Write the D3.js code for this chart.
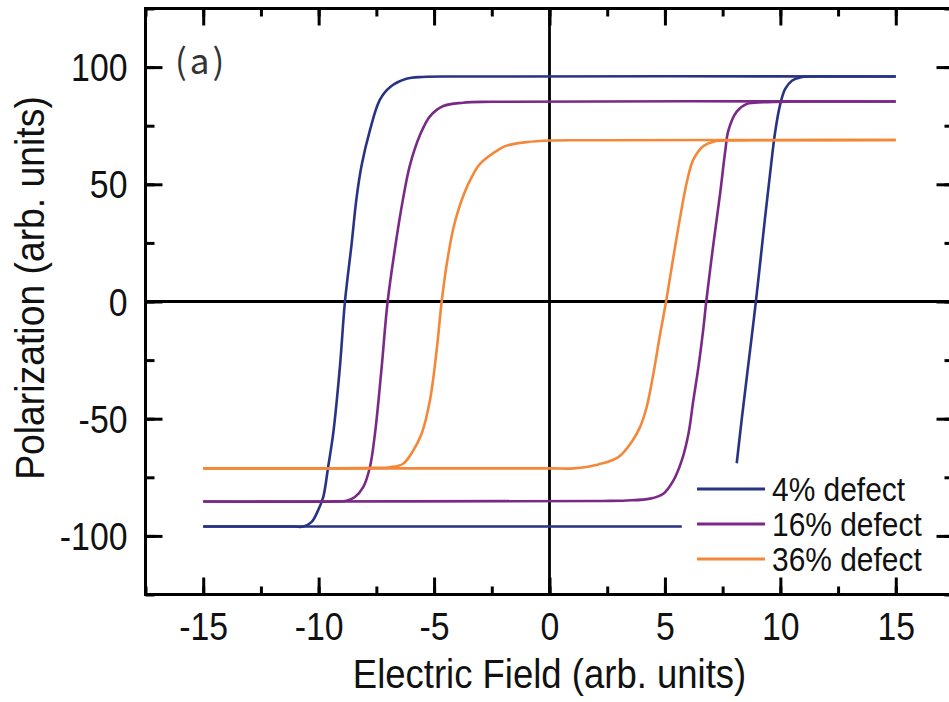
<!DOCTYPE html>
<html>
<head>
<meta charset="utf-8">
<script src="https://cdn.jsdelivr.net/npm/d3@7"></script>
<style>
  body { margin: 0; background: #fff; }
  svg { display: block; overflow: hidden; }
  text { font-family: "Liberation Sans", Arial, sans-serif; fill: #111; }
</style>
</head>
<body>
<div class="chart"></div>
<script>
// hysteresis loops, values
const seriesNames = ["4% defect", "16% defect", "36% defect"];
const seriesColors = ["#283383", "#7a2a86", "#f48838"];

// 4% defect
const blueUpperE = [-15, -11.1, -10.67, -10.3, -10.02, -9.8, -9.59, -9.37, -9.08, -8.86, -8.57, -8.36, -8.14, -7.78, -7.35, -6.9, -6.2, -5.5, -4, 15];
const blueUpperP = [-96, -96, -96, -94, -89, -83.4, -70.7, -56.4, -28, 0, 24.7, 44, 58, 73, 86, 91.5, 95, 95.8, 96, 96];
const blueLowerE = [-15, 5.73, null, 8.11, 8.33, 8.55, 8.76, 8.94, 9.12, 9.34, 9.56, 9.77, 9.99, 10.21, 10.5, 10.86, 11.5, 12.5, 15];
const blueLowerP = [-96, -96, null, -69, -50, -32, -15, 0, 16, 36, 55, 72, 84, 90.7, 94.2, 95.6, 96, 96, 96];

// 16% defect
const purpleUpperE = [-15, -9.3, -8.79, -8.43, -8.07, -7.78, -7.56, -7.27, -7.01, -6.62, -6.34, -6.05, -5.61, -5.18, -4.6, -3.75, -2.5, 15];
const purpleUpperP = [-85.3, -85.3, -85, -83.4, -79.2, -70.7, -56.4, -28, 0, 27.4, 44, 58, 71, 79, 83.4, 84.8, 85.2, 85.3];
const purpleLowerE = [-15, 2.3, 3.35, 4.36, 4.93, 5.37, 5.73, 6.02, 6.23, 6.45, 6.67, 6.79, 7.1, 7.39, 7.61, 7.75, 8.11, 8.55, 9.27, 10.5, 15];
const purpleLowerP = [-85.3, -85.1, -84.9, -84.1, -82, -76.3, -67.8, -56.4, -42.2, -28, -11, 0, 24.6, 46, 64, 73, 81, 84.3, 85, 85.3, 85.3];

// 36% defect
const orangeUpperE = [-15, -7.6, -6.91, -6.34, -5.9, -5.54, -5.18, -4.89, -4.67, -4.45, -4.17, -3.95, -3.7, -3.4, -3.01, -2.15, -1.86, -1, 0, 2, 15];
const orangeUpperP = [-71.2, -71, -70.7, -69.2, -63.5, -56.4, -42.2, -20.9, 0, 16, 31, 39, 46, 52.5, 58.7, 65.1, 66.5, 68, 68.7, 68.8, 68.9];
const orangeLowerE = [-15, 0, 1.03, 2.12, 2.98, 3.6, 3.92, 4.21, 4.5, 4.79, 5.05, 5.3, 5.66, 5.95, 6.23, 6.67, 7.1, 8, 9.5, 15];
const orangeLowerP = [-71.2, -71.2, -71.2, -69.5, -66.4, -59.3, -53.6, -45, -30.8, -14, 0, 15, 36, 51, 60.5, 66.3, 68.2, 68.7, 68.8, 68.9];

const xTicks = [-15, -10, -5, 0, 5, 10, 15];
const yTicks = [-100, -50, 0, 50, 100];

const W = 949, H = 702;
const svg = d3.select(".chart").append("svg")
    .attr("width", W)
    .attr("height", H);

const x = d3.scaleLinear().domain([-17.5, 17.5]).range([145.5, 953.5]);
const y = d3.scaleLinear().domain([-125, 125]).range([594.5, 8.5]);

// the original font is a bit narrower than Liberation Sans
function condense(sel, k){
    sel.each(function(){
        const L = this.getComputedTextLength();
        d3.select(this).attr("textLength", L * k).attr("lengthAdjust", "spacingAndGlyphs");
    });
}

const zip = (E, P) => E.map((e, i) => ({e: e, p: P[i]}));
const branches = [
    [zip(blueUpperE, blueUpperP), zip(blueLowerE, blueLowerP)],
    [zip(purpleUpperE, purpleUpperP), zip(purpleLowerE, purpleLowerP)],
    [zip(orangeUpperE, orangeUpperP), zip(orangeLowerE, orangeLowerP)]
];

// zero lines
svg.append("line")
    .attr("x1", x(0)).attr("x2", x(0))
    .attr("y1", y(-125)).attr("y2", y(125))
    .attr("stroke", "#000").attr("stroke-width", 2.8);
svg.append("line")
    .attr("x1", x(-17.5)).attr("x2", x(17.5))
    .attr("y1", y(0)).attr("y2", y(0))
    .attr("stroke", "#000").attr("stroke-width", 2.8);

// curves
const line = d3.line()
    .defined(d => d.e != null)
    .x(d => x(d.e))
    .y(d => y(d.p))
    .curve(d3.curveCatmullRom.alpha(0.5));

branches.forEach(function(pair, i){
    pair.forEach(function(b){
        svg.append("path")
            .datum(b)
            .attr("d", line)
            .attr("fill", "none")
            .attr("stroke", seriesColors[i])
            .attr("stroke-width", 2.6);
    });
});

// axes (ticks inward on all four sides)
const fmt = d => String(d);
const minorX = d3.range(-17.5, 17.6, 2.5);
const minorY = d3.range(-125, 126, 25);
const gx = svg.append("g")
    .attr("transform", "translate(0," + y(-125) + ")")
    .call(d3.axisBottom(x).tickValues(minorX).tickSize(-8).tickFormat(""));
const gxMaj = svg.append("g")
    .attr("transform", "translate(0," + y(-125) + ")")
    .call(d3.axisBottom(x).tickValues(xTicks).tickSize(-17).tickPadding(18).tickFormat(fmt));
const gxTop = svg.append("g")
    .attr("transform", "translate(0," + y(125) + ")")
    .call(d3.axisTop(x).tickValues(minorX).tickSize(-8).tickFormat(""));
const gxTopMaj = svg.append("g")
    .attr("transform", "translate(0," + y(125) + ")")
    .call(d3.axisTop(x).tickValues(xTicks).tickSize(-17).tickFormat(""));
const gy = svg.append("g")
    .attr("transform", "translate(" + x(-17.5) + ",0)")
    .call(d3.axisLeft(y).tickValues(minorY).tickSize(-9).tickFormat(""));
const gyMaj = svg.append("g")
    .attr("transform", "translate(" + x(-17.5) + ",0)")
    .call(d3.axisLeft(y).tickValues(yTicks).tickSize(-17).tickPadding(18).tickFormat(fmt));
const gyR = svg.append("g")
    .attr("transform", "translate(" + x(17.5) + ",0)")
    .call(d3.axisRight(y).tickValues(minorY).tickSize(-9).tickFormat(""));
const gyRMaj = svg.append("g")
    .attr("transform", "translate(" + x(17.5) + ",0)")
    .call(d3.axisRight(y).tickValues(yTicks).tickSize(-17).tickFormat(""));

[gx, gxMaj, gxTop, gxTopMaj, gy, gyMaj, gyR, gyRMaj].forEach(function(g){
    g.select(".domain").remove();
    g.selectAll(".tick line").attr("stroke", "#000").attr("stroke-width", 3);
    g.selectAll("text")
        .style("font-family", "'Liberation Sans', Arial, sans-serif")
        .style("font-size", "38px")
        .attr("fill", "#111");
});
gxMaj.selectAll("text").attr("dy", "0.72em");
gyMaj.selectAll("text").attr("dy", "0.36em");
condense(gxMaj.selectAll("text"), 0.89);
condense(gyMaj.selectAll("text"), 0.89);

// frame
svg.append("rect")
    .attr("x", x(-17.5)).attr("y", y(125))
    .attr("width", x(17.5) - x(-17.5))
    .attr("height", y(-125) - y(125))
    .attr("fill", "none")
    .attr("stroke", "#000")
    .attr("stroke-width", 3);

// axis titles
svg.append("text")
    .attr("x", x(0))
    .attr("y", 688)
    .attr("text-anchor", "middle")
    .style("font-size", "41px")
    .text("Electric Field (arb. units)")
    .call(condense, 0.89);

svg.append("text")
    .attr("transform", "translate(44," + 288 + ") rotate(-90)")
    .attr("text-anchor", "middle")
    .style("font-size", "41px")
    .text("Polarization (arb. units)")
    .call(condense, 0.91);

// panel label
svg.append("text")
    .attr("x", 175)
    .attr("y", 74)
    .style("font-family", "'Noto Sans CJK SC', 'Noto Sans', sans-serif")
    .style("font-size", "35px")
    .style("letter-spacing", "3px")
    .style("fill", "#333")
    .text("(a)");

// legend
const legend = svg.append("g").attr("transform", "translate(697,489)");
seriesNames.forEach(function(name, i){
    const row = legend.append("g").attr("transform", "translate(0," + (i * 35) + ")");
    row.append("line")
        .attr("x1", 0).attr("x2", 68)
        .attr("y1", 0).attr("y2", 0)
        .attr("stroke", seriesColors[i])
        .attr("stroke-width", 2.8);
    row.append("text")
        .attr("x", 75)
        .attr("y", 12)
        .style("font-size", "34px")
        .text(name)
        .call(condense, 0.88);
});
</script>
</body>
</html>
